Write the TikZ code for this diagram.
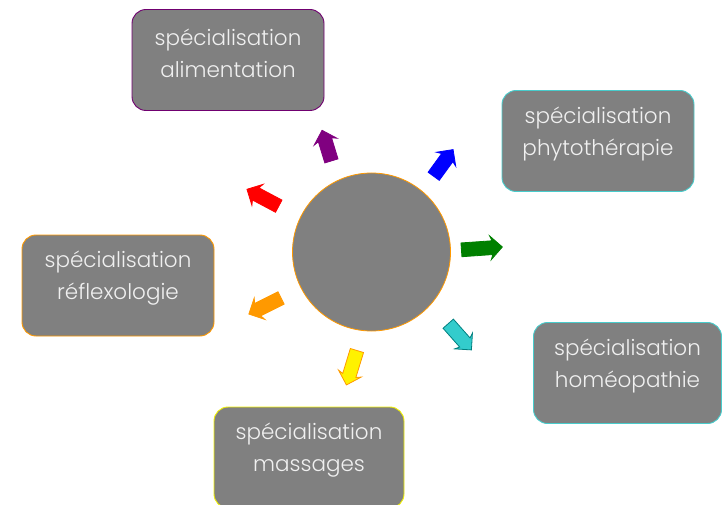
\documentclass[tikz,border=0pt]{standalone}
\usepackage{fontspec}
\setmainfont{Poppins Light}
\usepackage{tikz}
\usetikzlibrary{shapes.arrows,positioning,calc}

\definecolor{boxgray}{RGB}{128,128,128}
\definecolor{txtgray}{RGB}{240,240,240}
\definecolor{arPurple}{RGB}{128,0,128}
\definecolor{arGreen}{RGB}{0,128,0}
\definecolor{arCyan}{RGB}{51,204,204}
\definecolor{arTeal}{RGB}{0,128,128}
\definecolor{arOrange}{RGB}{255,153,0}
\definecolor{bdPurple}{RGB}{112,0,112}
\definecolor{bdCyan}{RGB}{72,204,204}
\definecolor{bdYellow}{RGB}{240,240,0}

\begin{document}
\begin{tikzpicture}[
    x=1pt, y=1pt,
    spec/.style={
        rectangle,
        rounded corners=14pt,
        fill=boxgray,
        line width=0.9pt,
        minimum width=192pt,
        minimum height=101pt
    },
    spectext/.style={
        text=txtgray,
        align=center,
        yshift=7pt,
        font=\fontsize{21.5}{32}\selectfont
    },
    hub/.style={
        circle,
        fill=boxgray,
        draw=arOrange,
        line width=0.8pt,
        minimum size=158pt,
        inner sep=0pt
    },
    blockarrow/.style={
        single arrow,
        single arrow head extend=5pt,
        single arrow head indent=2pt,
        inner xsep=0pt,
        inner ysep=6.5pt,
        line width=0.8pt
    }
]
\useasboundingbox (0,0) rectangle (722,504);

% Centre
\node[hub] (centre) at (371.5,252) {};

% Specialisations
\node[spec, draw=bdPurple, label={[spectext]center:spécialisation\\alimentation}] (alim) at (228,444) {};
\node[spec, draw=bdCyan, label={[spectext]center:spécialisation\\phytothérapie}] (phyto) at (598,363) {};
\node[spec, draw=arOrange, label={[spectext]center:spécialisation\\réflexologie}] (reflexo) at (118,218.5) {};
\node[spec, draw=bdCyan, minimum width=188pt, label={[spectext]center:spécialisation\\homéopathie}] (homeo) at (627.5,131) {};
\node[spec, draw=bdYellow, minimum width=190pt, label={[spectext]center:spécialisation\\massages}] (massage) at (309,46.5) {};

% Arrows round the centre
\foreach \pa/\pr/\rot/\len/\col/\bor [count=\i] in {
    113/112/107/32/arPurple/arPurple,
    51/111/54/33/blue/blue,
    1.8/107/4/41/arGreen/arGreen,
    -43.7/119/-48.5/35/arCyan/arTeal,
    -99.5/114/-107/36/yellow/arOrange,
    206.9/116/206.6/36/arOrange/arOrange,
    153.5/118/152/36/red/red}
    \node[blockarrow, fill=\col, draw=\bor, minimum height=\len pt, rotate=\rot]
        (arr\i) at ($(centre)+(\pa:\pr)$) {};

\end{tikzpicture}
\end{document}
